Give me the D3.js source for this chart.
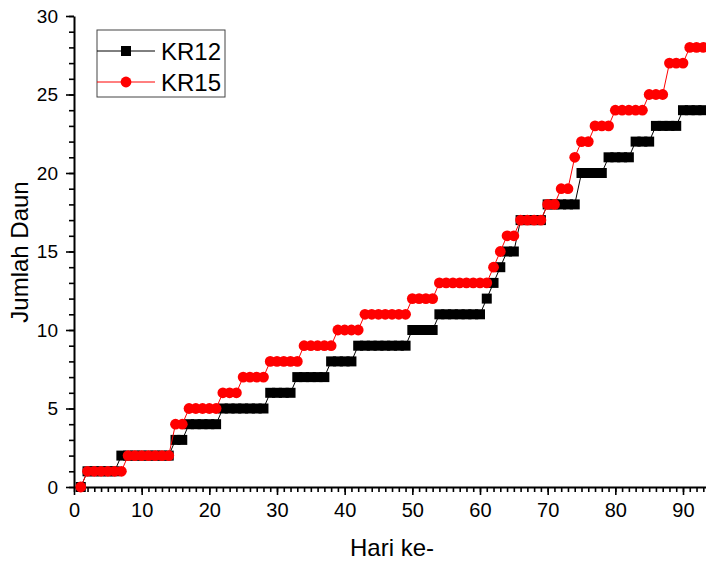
<!DOCTYPE html>
<html>
<head>
<meta charset="utf-8">
<script src="https://cdn.jsdelivr.net/npm/d3@7"></script>
<style>
  body { margin: 0; background: #fff; }
  svg { display: block; font-family: "Liberation Sans", Arial, sans-serif; }
  .domain { stroke-width: 2px; }
  .tick line { stroke-width: 1.6px; }
</style>
</head>
<body>
<svg id="chart"></svg>
<script>
// day number (Hari ke-) and leaf counts
var days = d3.range(1, 94);

var kr12 = [0,
  1,1,1,1,1,
  2,2,2,2,2,2,2,2,
  3,3,
  4,4,4,4,4,
  5,5,5,5,5,5,5,
  6,6,6,6,
  7,7,7,7,7,
  8,8,8,8,
  9,9,9,9,9,9,9,9,
  10,10,10,10,
  11,11,11,11,11,11,11,
  12, 13, 14,
  15,15,
  17,17,17,17,
  18,18,18,18,18,
  20,20,20,20,
  21,21,21,21,
  22,22,22,
  23,23,23,23,
  24,24,24,24];

var kr15 = [0,
  1,1,1,1,1,1,
  2,2,2,2,2,2,2,
  4,4,
  5,5,5,5,5,
  6,6,6,
  7,7,7,7,
  8,8,8,8,8,
  9,9,9,9,9,
  10,10,10,10,
  11,11,11,11,11,11,11,
  12,12,12,12,
  13,13,13,13,13,13,13,13,
  14, 15,
  16,16,
  17,17,17,17,
  18,18,
  19,19,
  21,
  22,22,
  23,23,23,
  24,24,24,24,24,
  25,25,25,
  27,27,27,
  28,28,28];

var seriesNames = ["KR12", "KR15"];
var xTicks = [0, 10, 20, 30, 40, 50, 60, 70, 80, 90];
var yTicks = [0, 5, 10, 15, 20, 25, 30];

var svgWidth = 706, svgHeight = 561;

var svg = d3.select("#chart")
  .attr("width", svgWidth)
  .attr("height", svgHeight);

var x = d3.scaleLinear().domain([0, 93.4]).range([74, 706]);
var y = d3.scaleLinear().domain([0, 30]).range([487, 16]);

// minor ticks first, then the major axes on top
svg.append("g")
  .attr("transform", "translate(0," + y(0) + ")")
  .call(d3.axisBottom(x).tickValues(d3.range(0, 94)).tickSize(5).tickFormat(""))
  .call(function(g) { g.select(".domain").remove(); });

svg.append("g")
  .attr("transform", "translate(" + x(0) + ",0)")
  .call(d3.axisLeft(y).tickValues(d3.range(0, 31)).tickSize(5).tickFormat(""))
  .call(function(g) { g.select(".domain").remove(); });

var xAxis = svg.append("g")
  .attr("transform", "translate(0," + y(0) + ")")
  .call(d3.axisBottom(x).tickValues(xTicks).tickSize(8).tickSizeOuter(0).tickPadding(8));
xAxis.selectAll("text").attr("font-size", 20).attr("fill", "#000");

var yAxis = svg.append("g")
  .attr("transform", "translate(" + x(0) + ",0)")
  .call(d3.axisLeft(y).tickValues(yTicks).tickSize(8).tickSizeOuter(0).tickPadding(8));
yAxis.selectAll("text").attr("font-size", 19).attr("fill", "#000");

svg.selectAll(".domain").attr("stroke", "#000").attr("stroke-width", 2);
svg.selectAll(".tick line").attr("stroke", "#000");

// axis titles
svg.append("text")
  .attr("x", 392)
  .attr("y", 556)
  .attr("text-anchor", "middle")
  .attr("font-size", 24)
  .text("Hari ke-");

svg.append("text")
  .attr("transform", "translate(28,252) rotate(-90)")
  .attr("text-anchor", "middle")
  .attr("font-size", 24)
  .text("Jumlah Daun");

var line = d3.line()
  .x(function(d, i) { return x(days[i]); })
  .y(function(d) { return y(d); });

// KR12
svg.append("path")
  .datum(kr12)
  .attr("fill", "none")
  .attr("stroke", "#000")
  .attr("stroke-width", 1)
  .attr("d", line);

svg.selectAll(".sq")
  .data(kr12)
  .enter().append("rect")
  .attr("class", "sq")
  .attr("x", function(d, i) { return x(days[i]) - 5; })
  .attr("y", function(d) { return y(d) - 5; })
  .attr("width", 10)
  .attr("height", 10)
  .attr("fill", "#000");

// KR15
svg.append("path")
  .datum(kr15)
  .attr("fill", "none")
  .attr("stroke", "#ff0000")
  .attr("stroke-width", 1)
  .attr("d", line);

svg.selectAll(".dot")
  .data(kr15)
  .enter().append("circle")
  .attr("class", "dot")
  .attr("cx", function(d, i) { return x(days[i]); })
  .attr("cy", function(d) { return y(d); })
  .attr("r", 5.4)
  .attr("fill", "#ff0000");

// legend
var legend = svg.append("g");
legend.append("rect")
  .attr("x", 97).attr("y", 30)
  .attr("width", 128).attr("height", 67)
  .attr("fill", "#fff")
  .attr("stroke", "#444")
  .attr("stroke-width", 1);

var legendColors = ["#000", "#ff0000"];
seriesNames.forEach(function(name, i) {
  var ly = 51 + i * 31;
  legend.append("line")
    .attr("x1", 97).attr("x2", 155)
    .attr("y1", ly).attr("y2", ly)
    .attr("stroke", legendColors[i])
    .attr("stroke-width", 1);
  if (i === 0) {
    legend.append("rect")
      .attr("x", 121).attr("y", ly - 5)
      .attr("width", 10).attr("height", 10)
      .attr("fill", "#000");
  } else {
    legend.append("circle")
      .attr("cx", 126).attr("cy", ly)
      .attr("r", 5.4)
      .attr("fill", "#ff0000");
  }
  legend.append("text")
    .attr("x", 161)
    .attr("y", ly + 8.5)
    .attr("font-size", 24)
    .text(name);
});
</script>
</body>
</html>
